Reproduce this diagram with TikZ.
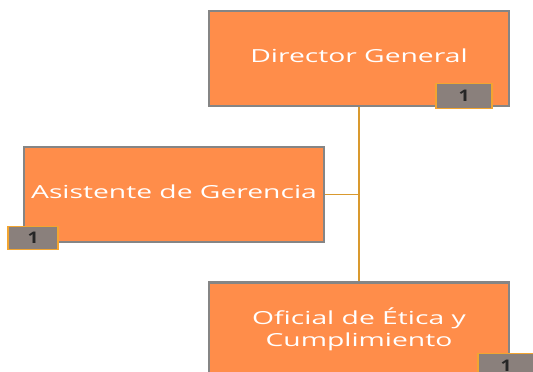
\documentclass[tikz,border=0pt]{standalone}
\usepackage{fontspec}
\usepackage{graphicx}
\setmainfont{Open Sans}
\definecolor{boxorange}{HTML}{FF8D4A}
\definecolor{boxgray}{HTML}{858585}
\definecolor{badgegray}{HTML}{8A807C}
\definecolor{badgegold}{HTML}{F2A531}
\definecolor{linkgold}{HTML}{D9992E}
% wide lettering as in the chart
\newcommand{\widelabel}[2][4pt]{\raisebox{#1}{\scalebox{1.57}[1]{\begin{tabular}{@{}c@{}}#2\end{tabular}}}}
\begin{document}
\begin{tikzpicture}[x=1pt,y=-1pt,
    post/.style={draw=boxgray,line width=2.5pt,fill=boxorange,text=white,
        minimum width=300pt,minimum height=95pt,inner sep=0pt,font=\fontsize{18}{21}\selectfont},
    badge/.style={draw=badgegold,line width=1.5pt,fill=badgegray,text=black!85,
        minimum width=56pt,minimum height=25pt,inner sep=0pt,font=\fontsize{16}{18}\selectfont\bfseries},
    link/.style={draw=linkgold,line width=1.5pt}]
    \useasboundingbox (0,0) rectangle (533,372);
    \clip (0,0) rectangle (533,372);

    \node[post] (dg) at (359,58.5) {\widelabel{Director General}};
    \node[post] (asg) at (174,194.5) {\widelabel{Asistente de Gerencia}};
    \node[post] (oec) at (359,330) {\widelabel[8pt]{Oficial de Ética y\\[1pt]Cumplimiento}};

    \draw[link] (dg.south) -- (oec.north);
    \draw[link] (asg.east) -- (asg.east -| dg.south);

    \node[badge] (dgn) at (464,96) {\scalebox{1.2}[1]{1}};
    \node[badge,minimum width=50pt,minimum height=23pt] (asgn) at (33,238) {\scalebox{1.2}[1]{1}};
    \node[badge] (oecn) at (506,366) {\scalebox{1.2}[1]{1}};
\end{tikzpicture}
\end{document}
